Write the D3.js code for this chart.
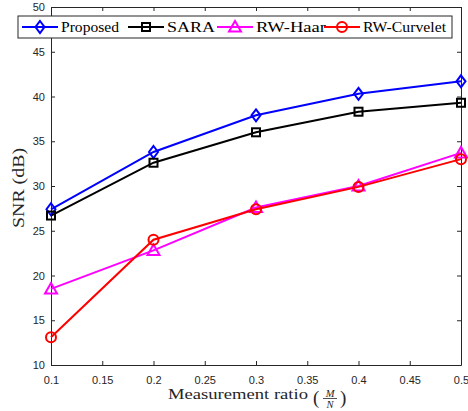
<!DOCTYPE html>
<html><head><meta charset="utf-8">
<script src="https://cdn.jsdelivr.net/npm/d3@7"></script>
<style>body{margin:0;background:#fff}</style>
</head><body>
<svg id="c" width="468" height="411"></svg>
<script>
const ratios = [0.1, 0.2, 0.3, 0.4, 0.5];
const proposed = [27.4, 33.8, 37.9, 40.3, 41.7];
const sara = [26.7, 32.6, 36.0, 38.3, 39.3];
const rwHaar = [18.5, 22.8, 27.6, 30.0, 33.7];
const rwCurvelet = [13.1, 24.0, 27.4, 29.9, 33.0];
const xTicks = [0.1, 0.15, 0.2, 0.25, 0.3, 0.35, 0.4, 0.45, 0.5];
const yTicks = [10, 15, 20, 25, 30, 35, 40, 45, 50];
const seriesNames = ["Proposed", "SARA", "RW-Haar", "RW-Curvelet"];

const series = [
  {name: seriesNames[0], values: proposed, color: "#0000ff", marker: "diamond"},
  {name: seriesNames[1], values: sara, color: "#000000", marker: "square"},
  {name: seriesNames[2], values: rwHaar, color: "#ff00ff", marker: "triangle"},
  {name: seriesNames[3], values: rwCurvelet, color: "#ff0000", marker: "circle"}
];

const svg = d3.select("#c");
const L = 51, R = 461, T = 7, B = 365;
const x = d3.scaleLinear().domain([0.1, 0.5]).range([L, R]);
const y = d3.scaleLinear().domain([10, 50]).range([B, T]);
const axisColor = "#262626";
const tickFont = "Liberation Sans, Arial, sans-serif";
const serif = "Liberation Serif, Times New Roman, serif";

const gx = svg.append("g").attr("transform", `translate(0,${B})`)
  .call(d3.axisBottom(x).tickValues(xTicks).tickSizeInner(-4).tickSizeOuter(0).tickPadding(11).tickFormat(d3.format("")));
const gxt = svg.append("g").attr("transform", `translate(0,${T})`)
  .call(d3.axisTop(x).tickValues(xTicks).tickSizeInner(-4).tickSizeOuter(0).tickFormat(""));
const gy = svg.append("g").attr("transform", `translate(${L},0)`)
  .call(d3.axisLeft(y).tickValues(yTicks).tickSizeInner(-4).tickSizeOuter(0).tickPadding(6));
const gyr = svg.append("g").attr("transform", `translate(${R},0)`)
  .call(d3.axisRight(y).tickValues(yTicks).tickSizeInner(-4).tickSizeOuter(0).tickFormat(""));
[gx, gxt, gy, gyr].forEach(g => {
  g.selectAll("path.domain").attr("stroke", axisColor).attr("stroke-width", 1);
  g.selectAll(".tick line").attr("stroke", axisColor);
  g.selectAll("text").attr("fill", axisColor).style("font-family", tickFont).style("font-size", "11px");
});

function drawMarker(g, m, cx, cy, color) {
  if (m === "diamond") {
    g.append("path").attr("d", `M${cx},${cy-6}L${cx+4.5},${cy}L${cx},${cy+6}L${cx-4.5},${cy}Z`)
      .attr("fill", "none").attr("stroke", color).attr("stroke-width", 2);
  } else if (m === "square") {
    g.append("rect").attr("x", cx-4).attr("y", cy-4).attr("width", 8).attr("height", 8)
      .attr("fill", "none").attr("stroke", color).attr("stroke-width", 2);
  } else if (m === "triangle") {
    g.append("path").attr("d", `M${cx},${cy-6}L${cx+6},${cy+4.5}L${cx-6},${cy+4.5}Z`)
      .attr("fill", "none").attr("stroke", color).attr("stroke-width", 2);
  } else {
    g.append("circle").attr("cx", cx).attr("cy", cy).attr("r", 5)
      .attr("fill", "none").attr("stroke", color).attr("stroke-width", 2);
  }
}

const line = d3.line().x((d, i) => x(ratios[i])).y(d => y(d));
const plot = svg.append("g");
series.forEach(s => {
  plot.append("path").datum(s.values).attr("d", line)
    .attr("fill", "none").attr("stroke", s.color).attr("stroke-width", 2);
  s.values.forEach((v, i) => drawMarker(plot, s.marker, x(ratios[i]), y(v), s.color));
});

// legend
const lg = svg.append("g");
lg.append("rect").attr("x", 18).attr("y", 16).attr("width", 434).attr("height", 22)
  .attr("fill", "#fff").attr("stroke", axisColor).attr("stroke-width", 1);
const legX = [22, 128, 217, 324];
const legW = [58, 48, 70, 83];
series.forEach((s, i) => {
  const x0 = legX[i], cy = 27;
  lg.append("line").attr("x1", x0).attr("x2", x0 + 36).attr("y1", cy).attr("y2", cy)
    .attr("stroke", s.color).attr("stroke-width", 2);
  drawMarker(lg, s.marker, x0 + 18, cy, s.color);
  lg.append("text").attr("x", x0 + 39).attr("y", cy + 5).text(s.name)
    .attr("textLength", legW[i]).attr("lengthAdjust", "spacingAndGlyphs")
    .style("font-family", serif).style("font-size", "15px").attr("fill", "#000");
});

// y label
svg.append("text").attr("transform", "translate(24,188) rotate(-90)").attr("text-anchor", "middle")
  .attr("textLength", 80).attr("lengthAdjust", "spacingAndGlyphs")
  .style("font-family", serif).style("font-size", "16px").attr("fill", axisColor).text("SNR (dB)");

// x label with fraction
const xl = svg.append("g").style("font-family", serif).attr("fill", axisColor);
xl.append("text").attr("x", 168).attr("y", 399).style("font-size", "14.5px")
  .attr("textLength", 140).attr("lengthAdjust", "spacingAndGlyphs").text("Measurement ratio");
xl.append("text").attr("x", 313).attr("y", 404).style("font-size", "19px").text("(");
const fx = 330;
xl.append("text").attr("x", fx).attr("y", 397).attr("text-anchor", "middle")
  .style("font-size", "10.5px").style("font-style", "italic").text("M");
xl.append("line").attr("x1", fx - 7).attr("x2", fx + 7).attr("y1", 398.5).attr("y2", 398.5)
  .attr("stroke", axisColor).attr("stroke-width", 0.8);
xl.append("text").attr("x", fx).attr("y", 407.5).attr("text-anchor", "middle")
  .style("font-size", "10.5px").style("font-style", "italic").text("N");
xl.append("text").attr("x", 340).attr("y", 404).style("font-size", "19px").text(")");
</script>
</body></html>
